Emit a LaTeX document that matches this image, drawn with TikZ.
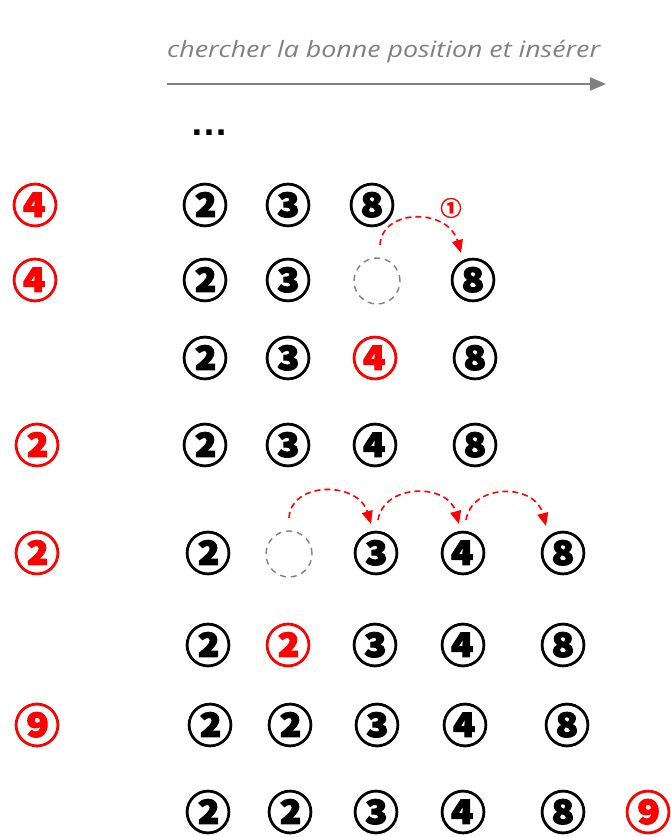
\documentclass[tikz,border=0pt]{standalone}
\usepackage{fontspec}
\usetikzlibrary{arrows.meta}
\newfontfamily\cfont{Noto Sans CJK JP}[FakeBold=2]
\newfontfamily\tfont{Open Sans}
\newfontfamily\dfont{Liberation Sans}
\definecolor{gr}{RGB}{128,128,128}
\begin{document}
\begin{tikzpicture}[x=1pt,y=-1pt,
  num/.style={inner sep=0pt,font=\cfont\bfseries\fontsize{46}{46}\selectfont},
  rnum/.style={num,text=red},
  hole/.style={circle,draw=gr,line width=1.4pt,minimum size=46pt,inner sep=0pt,dash pattern=on 6pt off 5pt},
  mv/.style={red,line width=1.6pt,dash pattern=on 6pt off 4pt,-{Triangle[length=13pt,width=11pt]}}]
\useasboundingbox (0,0) rectangle (671,837);
% header
\node[font=\tfont\itshape\fontsize{22.5}{22}\selectfont,text=gr,anchor=west,inner sep=0pt] (title) at (167,52) {\scalebox{1.19}[1]{chercher la bonne position et insérer}};
\coordinate (a0) at (167,84);
\coordinate (a1) at (606,84);
\draw[gr,line width=2.4pt,-{Triangle[length=16pt,width=13pt]}] (a0) -- (a1);
\node[font=\dfont\bfseries\fontsize{38}{38}\selectfont,inner sep=0pt,anchor=base] (dots) at (209,136) {…};
% row 1
\node[rnum] (k1) at (35,205) {④};
\node[num] (r1a) at (205,205) {②};
\node[num] (r1b) at (288,205) {③};
\node[num] (r1c) at (372,205) {⑧};
\node[text=red,inner sep=0pt,font=\cfont\bfseries\fontsize{21}{21}\selectfont] (lab1) at (451,208) {①};
% row 2
\node[rnum] (k2) at (35,280) {④};
\node[num] (r2a) at (205,280) {②};
\node[num] (r2b) at (288,280) {③};
\node[hole] (r2h) at (377,281) {};
\node[num] (r2c) at (473,280) {⑧};
\coordinate (s2) at (380,245);
\coordinate (t2) at (461,253);
\draw[mv] (s2) .. controls (382,208) and (448,208) .. (t2);
% row 3
\node[num] (r3a) at (205,358) {②};
\node[num] (r3b) at (288,358) {③};
\node[rnum] (r3c) at (375,358) {④};
\node[num] (r3d) at (475,358) {⑧};
% row 4
\node[rnum] (k4) at (37,445) {②};
\node[num] (r4a) at (205,445) {②};
\node[num] (r4b) at (288,445) {③};
\node[num] (r4c) at (375,445) {④};
\node[num] (r4d) at (475,445) {⑧};
% row 5
\node[rnum] (k5) at (37,553) {②};
\node[num] (r5a) at (208,553) {②};
\node[hole] (r5h) at (289,554) {};
\node[num] (r5b) at (376,553) {③};
\node[num] (r5c) at (463,553) {④};
\node[num] (r5d) at (563,553) {⑧};
\coordinate (s5a) at (289,518);
\coordinate (t5a) at (371,524);
\coordinate (s5b) at (378,520);
\coordinate (t5b) at (459,524);
\coordinate (s5c) at (466,520);
\coordinate (t5c) at (546,526);
\draw[mv] (s5a) .. controls (291,481) and (358,481) .. (t5a);
\draw[mv] (s5b) .. controls (384,483) and (448,483) .. (t5b);
\draw[mv] (s5c) .. controls (472,483) and (535,483) .. (t5c);
% row 6
\node[num] (r6a) at (208,645) {②};
\node[rnum] (r6b) at (288,645) {②};
\node[num] (r6c) at (375,645) {③};
\node[num] (r6d) at (463,645) {④};
\node[num] (r6e) at (563,645) {⑧};
% row 7
\node[rnum] (k7) at (37,725) {⑨};
\node[num] (r7a) at (210,725) {②};
\node[num] (r7b) at (290,725) {②};
\node[num] (r7c) at (377,725) {③};
\node[num] (r7d) at (465,725) {④};
\node[num] (r7e) at (567,725) {⑧};
% row 8
\node[num] (r8a) at (208,812) {②};
\node[num] (r8b) at (290,812) {②};
\node[num] (r8c) at (376,812) {③};
\node[num] (r8d) at (463,812) {④};
\node[num] (r8e) at (563,812) {⑧};
\node[rnum] (r8f) at (648,812) {⑨};
\end{tikzpicture}
\end{document}
